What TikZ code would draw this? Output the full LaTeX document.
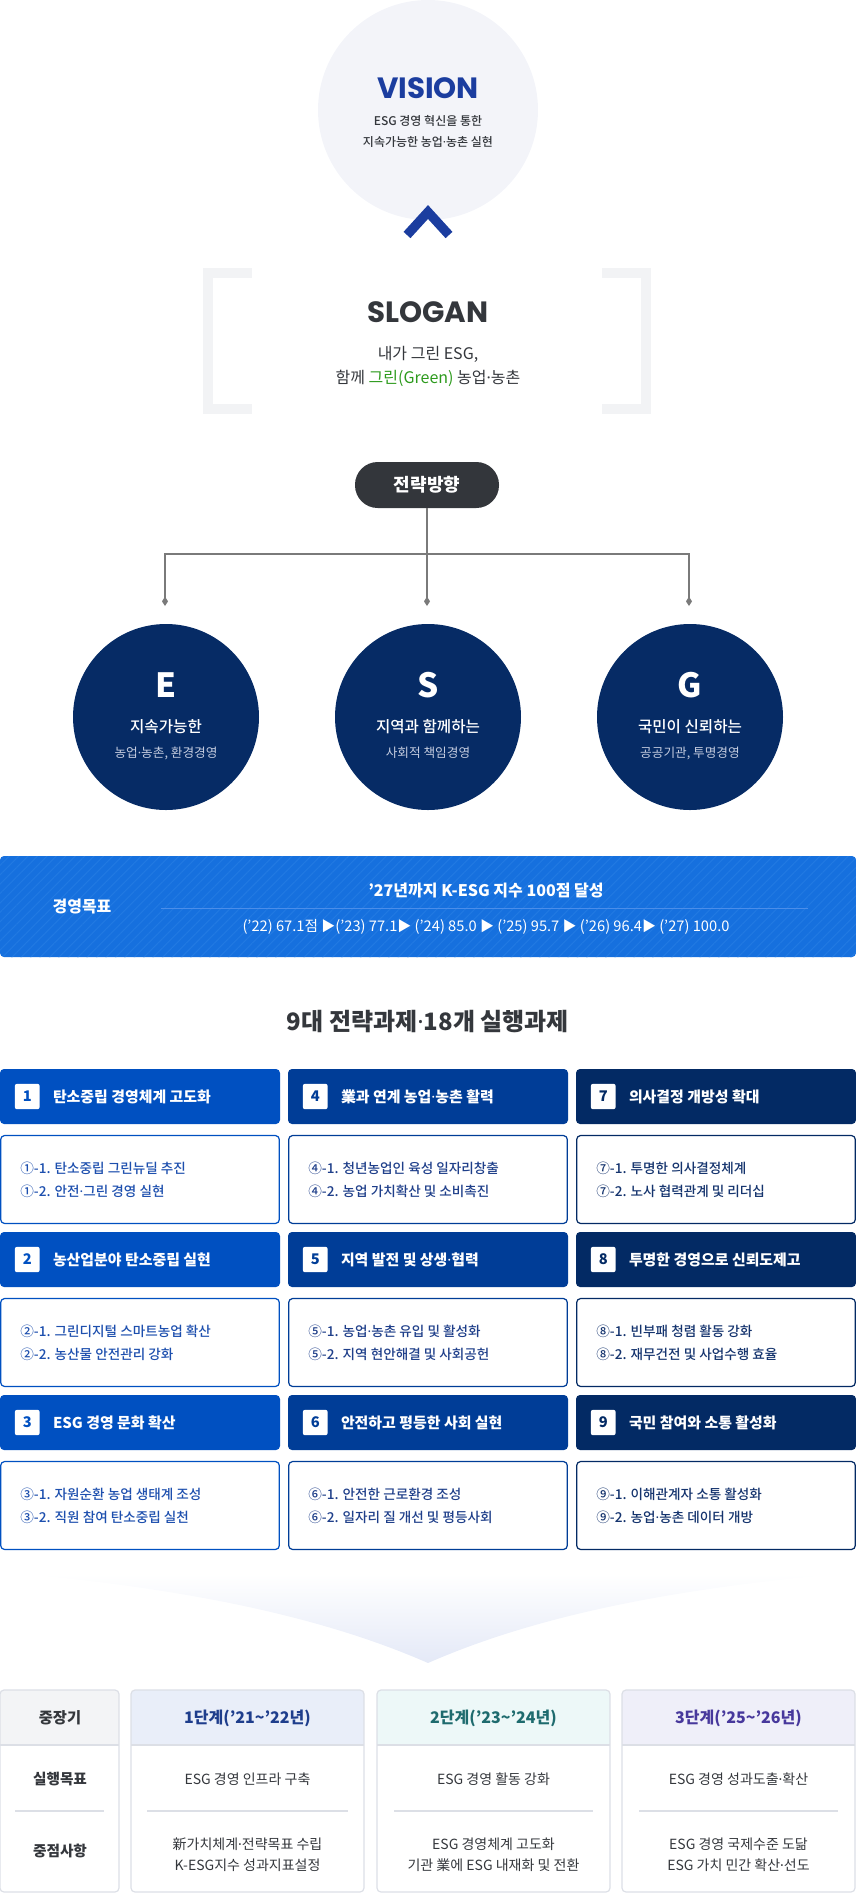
\documentclass[tikz,border=0pt]{standalone}
\usepackage{fontspec}
\setmainfont{Noto Sans CJK KR}
\newfontfamily\medfont{Noto Sans CJK KR Medium}
\newfontfamily\logofont{Poppins}
\newfontfamily\dotfont{Noto Sans}
\usepackage{tikz}
\usetikzlibrary{arrows.meta,calc,positioning,patterns.meta}
\definecolor{VisionBg}{HTML}{F3F4F9}
\definecolor{VisionBlue}{HTML}{1B3D9F}
\definecolor{InkDark}{HTML}{34373C}
\definecolor{BracketGray}{HTML}{F2F3F5}
\definecolor{SloganGreen}{HTML}{2C9A1C}
\definecolor{PillDark}{HTML}{33363B}
\definecolor{LinkGray}{HTML}{7A7A7A}
\definecolor{EsgNavy}{HTML}{062B65}
\definecolor{EsgSub}{HTML}{C5CDE0}
\definecolor{GoalBlue}{HTML}{1670DE}
\definecolor{GoalStripe}{HTML}{2179E2}
\definecolor{GoalLine}{HTML}{4B8EEA}
\definecolor{TaskA}{HTML}{0050C1}
\definecolor{TaskB}{HTML}{003D97}
\definecolor{TaskC}{HTML}{032A64}
\definecolor{TaskTxtA}{HTML}{1D4FAE}
\definecolor{TaskTxtB}{HTML}{1F3F8A}
\definecolor{TaskTxtC}{HTML}{15346E}
\definecolor{ArrowLav}{HTML}{E4E9F7}
\definecolor{TabLine}{HTML}{DCDFE6}
\definecolor{TabHeadO}{HTML}{F3F4F6}
\definecolor{TabHeadA}{HTML}{E9EEF9}
\definecolor{TabHeadB}{HTML}{EDF8F8}
\definecolor{TabHeadC}{HTML}{EFEFF9}
\definecolor{StageA}{HTML}{1E3D8C}
\definecolor{StageB}{HTML}{1E6B6E}
\definecolor{StageC}{HTML}{47389C}
\newcommand{\fsz}[2]{\fontsize{#1}{#2}\selectfont}
\newcommand{\tri}{{\fsz{10.5}{10.5}▶}}
\newcommand{\md}{{\dotfont ·}}
\newcommand{\tld}{\textasciitilde}

\begin{document}
\begin{tikzpicture}[x=0.75pt,y=-0.75pt,
  txt/.style={inner sep=0pt,align=center},
  link/.style={draw=LinkGray,line width=1pt},
  esgcirc/.style={circle,fill=EsgNavy,minimum size=139.5pt,inner sep=0pt},
  taskhead/.style={rounded corners=3pt,minimum width=210pt,minimum height=41.25pt,inner sep=0pt},
  taskbody/.style={draw,fill=white,line width=0.9pt,rounded corners=3pt,minimum width=209pt,minimum height=66pt,inner sep=0pt},
  numbox/.style={fill=white,rounded corners=1.5pt,minimum width=18.5pt,minimum height=19pt,inner sep=0pt,font=\fsz{11}{11}\bfseries},
  headtxt/.style={inner sep=0pt,anchor=west,text=white,font=\fsz{11.2}{11.2}\bfseries},
  bodytxt/.style={inner sep=0pt,anchor=west,align=left,font=\fsz{10.2}{17.25}\medfont},
  tabline/.style={draw=TabLine,line width=0.9pt}]
\useasboundingbox (0,0) rectangle (856,1893);

% vision
\fill[VisionBg] (428,110) circle (110);
\node[txt,text=VisionBlue,font=\fsz{22}{22}\logofont\bfseries] (vision) at (428,88) {VISION};
\node[txt,text=InkDark,font=\fsz{9}{15.75}\medfont] (visiontxt) at (428,131) {ESG 경영 혁신을 통한\\지속가능한 농업\md 농촌 실현};
\draw[VisionBlue,line width=7pt,miter limit=10] (407,235) -- (428,212) -- (449,235);

% slogan
\draw[BracketGray,line width=7.5pt] (252,273) -- (208,273) -- (208,409) -- (252,409);
\draw[BracketGray,line width=7.5pt] (602,273) -- (646,273) -- (646,409) -- (602,409);
\node[txt,text=InkDark,font=\fsz{22}{22}\logofont\bfseries] (slogan) at (428,312) {SLOGAN};
\node[txt,text=InkDark,font=\fsz{12}{18}] (slogantxt) at (428,366) {내가 그린 ESG,\\함께 \textcolor{SloganGreen}{그린(Green)} 농업\md 농촌};

% strategy
\node[fill=PillDark,rounded corners=17pt,minimum width=108pt,minimum height=34.5pt,inner sep=0pt,text=white,font=\fsz{13.5}{13.5}\bfseries] (dir) at (427,485) {전략방향};
\coordinate (hub) at (427,554);
\coordinate (tipE) at (165,606);
\coordinate (tipS) at (427,606);
\coordinate (tipG) at (689,606);
\draw[link] (dir.south) -- (hub);
\draw[link,-{Diamond[length=7pt,width=4.5pt]}] (hub) -| (tipE);
\draw[link,-{Diamond[length=7pt,width=4.5pt]}] (hub) -- (tipS);
\draw[link,-{Diamond[length=7pt,width=4.5pt]}] (hub) -| (tipG);

\node[esgcirc] (cE) at (166,717) {};
\node[esgcirc] (cS) at (428,717) {};
\node[esgcirc] (cG) at (690,717) {};
\node[txt,text=white,font=\fsz{25}{25}\bfseries] (lE) at ($(cE)+(0,-32)$) {E};
\node[txt,text=white,font=\fsz{25}{25}\bfseries] (lS) at ($(cS)+(0,-32)$) {S};
\node[txt,text=white,font=\fsz{25}{25}\bfseries] (lG) at ($(cG)+(0,-32)$) {G};
\node[txt,text=white,font=\fsz{11.7}{11.7}\medfont] (tE) at ($(cE)+(0,10)$) {지속가능한};
\node[txt,text=white,font=\fsz{11.7}{11.7}\medfont] (tS) at ($(cS)+(0,10)$) {지역과 함께하는};
\node[txt,text=white,font=\fsz{11.7}{11.7}\medfont] (tG) at ($(cG)+(0,10)$) {국민이 신뢰하는};
\node[txt,text=EsgSub,font=\fsz{9.5}{9.5}] (sE) at ($(cE)+(0,36)$) {농업\md 농촌, 환경경영};
\node[txt,text=EsgSub,font=\fsz{9.5}{9.5}] (sS) at ($(cS)+(0,36)$) {사회적 책임경영};
\node[txt,text=EsgSub,font=\fsz{9.5}{9.5}] (sG) at ($(cG)+(0,36)$) {공공기관, 투명경영};

% goal banner
\node[fill=GoalBlue,rounded corners=3pt,minimum width=642pt,minimum height=75.75pt,inner sep=0pt,
  postaction={pattern={Lines[angle=45,distance=5pt,line width=0.8pt]},pattern color=GoalStripe}] (goal) at (428,906.5) {};
\node[txt,text=white,font=\fsz{12}{12}\bfseries] (goallbl) at (82,907) {경영목표};
\node[txt,text=white,font=\fsz{12}{12}\bfseries] (goaltop) at (486,891) {’27년까지 K-ESG 지수 100점 달성};
\draw[GoalLine,line width=0.6pt] (161,908) -- (808,908);
\node[txt,text=white,font=\fsz{11}{11}] (goalrow) at (486,927) {(’22) 67.1점 \tri(’23) 77.1\tri\ (’24) 85.0 \tri\ (’25) 95.7 \tri\ (’26) 96.4\tri\ (’27) 100.0};

\node[txt,text=InkDark,font=\fsz{18}{18}\bfseries] (tasktitle) at (428,1022) {9대 전략과제\md 18개 실행과제};

% task headers
\node[taskhead,fill=TaskA] (h1) at (140,1096.5) {};
\node[taskhead,fill=TaskB] (h4) at (428,1096.5) {};
\node[taskhead,fill=TaskC] (h7) at (716,1096.5) {};
\node[taskhead,fill=TaskA] (h2) at (140,1259.5) {};
\node[taskhead,fill=TaskB] (h5) at (428,1259.5) {};
\node[taskhead,fill=TaskC] (h8) at (716,1259.5) {};
\node[taskhead,fill=TaskA] (h3) at (140,1422.5) {};
\node[taskhead,fill=TaskB] (h6) at (428,1422.5) {};
\node[taskhead,fill=TaskC] (h9) at (716,1422.5) {};
\node[numbox,text=TaskA] (n1) at ($(h1.west)+(27.5,0)$) {1};
\node[numbox,text=TaskB] (n4) at ($(h4.west)+(27.5,0)$) {4};
\node[numbox,text=TaskC] (n7) at ($(h7.west)+(27.5,0)$) {7};
\node[numbox,text=TaskA] (n2) at ($(h2.west)+(27.5,0)$) {2};
\node[numbox,text=TaskB] (n5) at ($(h5.west)+(27.5,0)$) {5};
\node[numbox,text=TaskC] (n8) at ($(h8.west)+(27.5,0)$) {8};
\node[numbox,text=TaskA] (n3) at ($(h3.west)+(27.5,0)$) {3};
\node[numbox,text=TaskB] (n6) at ($(h6.west)+(27.5,0)$) {6};
\node[numbox,text=TaskC] (n9) at ($(h9.west)+(27.5,0)$) {9};
\node[headtxt] (ht1) at ($(h1.west)+(53,0)$) {탄소중립 경영체계 고도화};
\node[headtxt] (ht4) at ($(h4.west)+(53,0)$) {業과 연계 농업\md 농촌 활력};
\node[headtxt] (ht7) at ($(h7.west)+(53,0)$) {의사결정 개방성 확대};
\node[headtxt] (ht2) at ($(h2.west)+(53,0)$) {농산업분야 탄소중립 실현};
\node[headtxt] (ht5) at ($(h5.west)+(53,0)$) {지역 발전 및 상생\md 협력};
\node[headtxt] (ht8) at ($(h8.west)+(53,0)$) {투명한 경영으로 신뢰도제고};
\node[headtxt] (ht3) at ($(h3.west)+(53,0)$) {ESG 경영 문화 확산};
\node[headtxt] (ht6) at ($(h6.west)+(53,0)$) {안전하고 평등한 사회 실현};
\node[headtxt] (ht9) at ($(h9.west)+(53,0)$) {국민 참여와 소통 활성화};

% task bodies
\node[taskbody,draw=TaskA] (b1) at (140,1179.5) {};
\node[taskbody,draw=TaskB] (b4) at (428,1179.5) {};
\node[taskbody,draw=TaskC] (b7) at (716,1179.5) {};
\node[taskbody,draw=TaskA] (b2) at (140,1342.5) {};
\node[taskbody,draw=TaskB] (b5) at (428,1342.5) {};
\node[taskbody,draw=TaskC] (b8) at (716,1342.5) {};
\node[taskbody,draw=TaskA] (b3) at (140,1505.5) {};
\node[taskbody,draw=TaskB] (b6) at (428,1505.5) {};
\node[taskbody,draw=TaskC] (b9) at (716,1505.5) {};
\node[bodytxt,text=TaskTxtA] (bt1) at ($(b1.west)+(20,0)$) {①-1. 탄소중립 그린뉴딜 추진\\①-2. 안전\md 그린 경영 실현};
\node[bodytxt,text=TaskTxtB] (bt4) at ($(b4.west)+(20,0)$) {④-1. 청년농업인 육성 일자리창출\\④-2. 농업 가치확산 및 소비촉진};
\node[bodytxt,text=TaskTxtC] (bt7) at ($(b7.west)+(20,0)$) {⑦-1. 투명한 의사결정체계\\⑦-2. 노사 협력관계 및 리더십};
\node[bodytxt,text=TaskTxtA] (bt2) at ($(b2.west)+(20,0)$) {②-1. 그린디지털 스마트농업 확산\\②-2. 농산물 안전관리 강화};
\node[bodytxt,text=TaskTxtB] (bt5) at ($(b5.west)+(20,0)$) {⑤-1. 농업\md 농촌 유입 및 활성화\\⑤-2. 지역 현안해결 및 사회공헌};
\node[bodytxt,text=TaskTxtC] (bt8) at ($(b8.west)+(20,0)$) {⑧-1. 빈부패 청렴 활동 강화\\⑧-2. 재무건전 및 사업수행 효율};
\node[bodytxt,text=TaskTxtA] (bt3) at ($(b3.west)+(20,0)$) {③-1. 자원순환 농업 생태계 조성\\③-2. 직원 참여 탄소중립 실천};
\node[bodytxt,text=TaskTxtB] (bt6) at ($(b6.west)+(20,0)$) {⑥-1. 안전한 근로환경 조성\\⑥-2. 일자리 질 개선 및 평등사회};
\node[bodytxt,text=TaskTxtC] (bt9) at ($(b9.west)+(20,0)$) {⑨-1. 이해관계자 소통 활성화\\⑨-2. 농업\md 농촌 데이터 개방};

% arrow down
\shade[top color=white,bottom color=ArrowLav] (22,1574) .. controls (200,1590) and (330,1620) .. (428,1663) .. controls (526,1620) and (656,1590) .. (840,1574) -- cycle;

% roadmap table
\begin{scope}
\clip[rounded corners=3pt] (0,1690) rectangle (119,1892);
\fill[TabHeadO] (0,1690) rectangle (119,1745);
\end{scope}
\begin{scope}
\clip[rounded corners=3pt] (131,1690) rectangle (364,1892);
\fill[TabHeadA] (131,1690) rectangle (364,1745);
\end{scope}
\begin{scope}
\clip[rounded corners=3pt] (377,1690) rectangle (610,1892);
\fill[TabHeadB] (377,1690) rectangle (610,1745);
\end{scope}
\begin{scope}
\clip[rounded corners=3pt] (622,1690) rectangle (855,1892);
\fill[TabHeadC] (622,1690) rectangle (855,1745);
\end{scope}
\draw[tabline,rounded corners=3pt] (0,1690) rectangle (119,1892);
\draw[tabline,rounded corners=3pt] (131,1690) rectangle (364,1892);
\draw[tabline,rounded corners=3pt] (377,1690) rectangle (610,1892);
\draw[tabline,rounded corners=3pt] (622,1690) rectangle (855,1892);
\draw[tabline] (0,1745) -- (119,1745);
\draw[tabline] (131,1745) -- (364,1745);
\draw[tabline] (377,1745) -- (610,1745);
\draw[tabline] (622,1745) -- (855,1745);
\draw[tabline] (15,1811) -- (104,1811);
\draw[tabline] (147,1811) -- (348,1811);
\draw[tabline] (394,1811) -- (593,1811);
\draw[tabline] (639,1811) -- (838,1811);

\node[txt,text=InkDark,font=\fsz{11.5}{11.5}\bfseries] (termhd) at (60,1718) {중장기};
\node[txt,text=StageA,font=\fsz{12}{12}\bfseries] (stage1) at (247.5,1718) {1단계(’21\tld’22년)};
\node[txt,text=StageB,font=\fsz{12}{12}\bfseries] (stage2) at (493.5,1718) {2단계(’23\tld’24년)};
\node[txt,text=StageC,font=\fsz{12}{12}\bfseries] (stage3) at (738.5,1718) {3단계(’25\tld’26년)};
\node[txt,text=InkDark,font=\fsz{11}{11}\bfseries] (goalhd) at (60,1779) {실행목표};
\node[txt,text=InkDark,font=\fsz{10.5}{10.5}] (goal1) at (247.5,1779) {ESG 경영 인프라 구축};
\node[txt,text=InkDark,font=\fsz{10.5}{10.5}] (goal2) at (493.5,1779) {ESG 경영 활동 강화};
\node[txt,text=InkDark,font=\fsz{10.5}{10.5}] (goal3) at (738.5,1779) {ESG 경영 성과도출\md 확산};
\node[txt,text=InkDark,font=\fsz{11}{11}\bfseries] (focushd) at (60,1851) {중점사항};
\node[txt,text=InkDark,font=\fsz{10.5}{15.75}] (focus1) at (247.5,1855) {新가치체계\md 전략목표 수립\\K-ESG지수 성과지표설정};
\node[txt,text=InkDark,font=\fsz{10.5}{15.75}] (focus2) at (493.5,1855) {ESG 경영체계 고도화\\기관 業에 ESG 내재화 및 전환};
\node[txt,text=InkDark,font=\fsz{10.5}{15.75}] (focus3) at (738.5,1855) {ESG 경영 국제수준 도닮\\ESG 가치 민간 확산\md 선도};
\end{tikzpicture}
\end{document}
